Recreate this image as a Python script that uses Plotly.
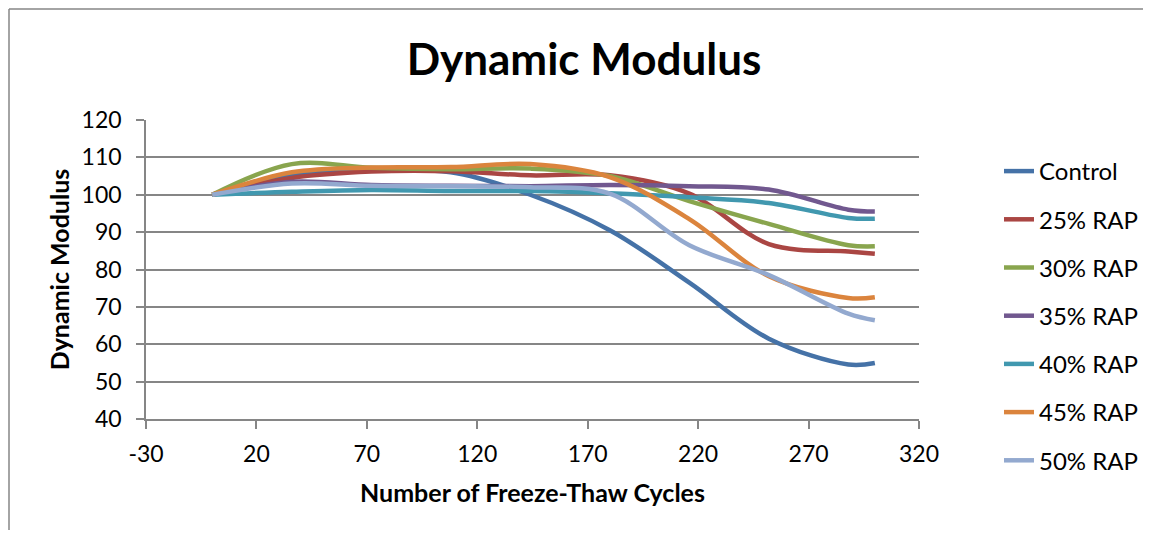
import plotly.graph_objects as go

cycles = [0, 36, 72, 108, 144, 180, 216, 252, 288, 300]
series_names = ["Control", "25% RAP", "30% RAP", "35% RAP", "40% RAP", "45% RAP", "50% RAP"]
control = [100, 105.5, 106.5, 106.0, 100.0, 90.5, 76.5, 61.5, 54.6, 55.0]
rap25 = [100, 104.5, 106.2, 106.3, 105.2, 105.2, 100.3, 86.8, 84.8, 84.2]
rap30 = [100, 108.2, 107.2, 106.8, 107.0, 105.0, 98.3, 92.2, 86.5, 86.2]
rap35 = [100, 103.5, 102.6, 102.4, 102.3, 102.6, 102.3, 101.4, 96.0, 95.5]
rap40 = [100, 100.8, 101.3, 101.0, 101.0, 100.4, 99.3, 97.8, 93.8, 93.6]
rap45 = [100, 106.0, 107.3, 107.4, 108.2, 104.7, 93.5, 78.2, 72.4, 72.6]
rap50 = [100, 103.0, 102.4, 102.3, 102.0, 100.3, 86.5, 78.5, 68.2, 66.4]
x_ticks = [-30, 20, 70, 120, 170, 220, 270, 320]
y_ticks = [40, 50, 60, 70, 80, 90, 100, 110, 120]

values = [control, rap25, rap30, rap35, rap40, rap45, rap50]
colors = ["#4572A7", "#AA4643", "#89A54E", "#71588F", "#4198AF", "#DB843D", "#93A9CF"]

FONT = "Lato"
fig = go.Figure()
for name, vals, col in zip(series_names, values, colors):
    fig.add_trace(go.Scatter(
        x=cycles, y=vals, name=name, mode="lines", legendgroup=name,
        line=dict(color=col, width=4.5, shape="spline", smoothing=1.0),
    ))

# the page body adds an 8px margin, so the figure is drawn smaller to fit the window
OFF = 8
W, H = 1151 - 2 * OFF, 538 - 2 * OFF
L, R, T, B = 146 - OFF, 919 - OFF, 120 - OFF, 419 - OFF
pw, ph = R - L, B - T

def px_x(p):
    return (p - OFF - L) / pw

def px_y(p):
    return (B - (p - OFF)) / ph

grid = "#868686"
fig.update_layout(
    width=W, height=H,
    margin=dict(l=L, r=W - R, t=T, b=H - B, autoexpand=False),
    paper_bgcolor="white", plot_bgcolor="white",
    font=dict(family=FONT, color="black", size=23),
    title=dict(text="<b>Dynamic Modulus</b>", x=(584 - OFF) / W, xanchor="center",
               y=1 - (60 - OFF) / H, yanchor="middle", yref="container",
               font=dict(family=FONT, size=44, color="black")),
    xaxis=dict(range=[-30, 320], tickmode="array", tickvals=x_ticks,
               ticktext=[str(v) for v in x_ticks],
               showgrid=False, zeroline=False, showline=True, linecolor=grid, linewidth=1.5,
               ticks="outside", ticklen=8, tickwidth=1.5, tickcolor=grid,
               ticklabelstandoff=6,
               tickfont=dict(family=FONT, size=23, color="black"),
               title=dict(text="<b>Number of Freeze-Thaw Cycles</b>", standoff=18,
                          font=dict(family=FONT, size=25, color="black"))),
    yaxis=dict(range=[40, 120], tickmode="array", tickvals=y_ticks,
               ticktext=[str(v) for v in y_ticks],
               showgrid=True, gridcolor=grid, gridwidth=1.5,
               zeroline=False, showline=True, linecolor=grid, linewidth=1.5,
               ticks="outside", ticklen=8, tickwidth=1.5, tickcolor=grid,
               ticklabelstandoff=10,
               tickfont=dict(family=FONT, size=23, color="black"),
               title=dict(text="<b>Dynamic Modulus</b>", standoff=5,
                          font=dict(family=FONT, size=25, color="black"))),
    legend=dict(x=px_x(999), xanchor="left", y=px_y(149), yanchor="top",
                font=dict(family=FONT, size=24, color="black"),
                tracegroupgap=14, bgcolor="rgba(0,0,0,0)", maxheight=1000),
    showlegend=True,
)

# chart-area border (left and top edges visible in the reference)
fig.add_shape(type="line", xref="paper", yref="paper",
              x0=px_x(9), x1=px_x(9), y0=px_y(9), y1=px_y(700),
              line=dict(color=grid, width=1.5), layer="below")
fig.add_shape(type="line", xref="paper", yref="paper",
              x0=px_x(9), x1=px_x(1200), y0=px_y(9), y1=px_y(9),
              line=dict(color=grid, width=1.5), layer="below")

fig.write_html("out.html")
